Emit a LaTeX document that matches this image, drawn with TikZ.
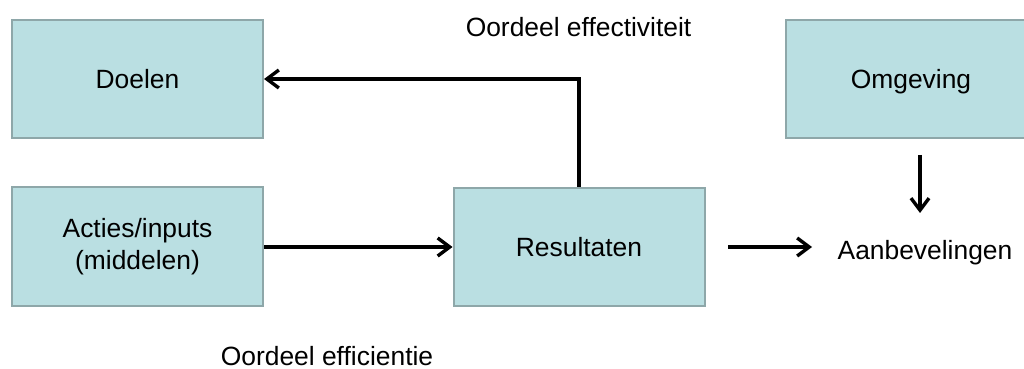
\documentclass[tikz,border=0pt]{standalone}
\usepackage{fontspec}
\setmainfont{Liberation Sans}
\usepackage{tikz}
\usetikzlibrary{arrows.meta}
\definecolor{boxfill}{HTML}{BADFE2}
\definecolor{boxline}{HTML}{8EA7A9}

\begin{document}
\begin{tikzpicture}[x=0.5pt,y=-0.5pt,
  blok/.style={draw=boxline,line width=1pt,fill=boxfill,
    minimum width=125.5pt,minimum height=59pt,align=center},
  pijl/.style={line width=1.7pt,-{Straight Barb[length=6pt,width=9pt,line width=1.7pt]}},
  font=\fontsize{13.2}{16}\selectfont]
\useasboundingbox (0,0) rectangle (1024,369);

\node[blok] (DL) at (137.5,79) {Doelen};
\node[blok] (AC) at (137.5,246.5) {Acties/inputs\\(middelen)};
\node[blok] (RS) at (579,247) {Resultaten};
\node[blok,text depth=0pt] (OM) at (911,79) {Omgeving};

\node (AB) at (925,252.5) {Aanbevelingen};
\node (OE) at (578.5,27) {Oordeel effectiviteit};
\node[inner sep=1pt] (OF) at (327,356) {Oordeel efficientie};

\coordinate (RSa) at (728,247);
\coordinate (ABa) at (812,247);
\coordinate (OMa) at (920,155);
\coordinate (ABb) at (920,213);

\draw[pijl] (AC.east |- RS) -- (RS.west);
\draw[pijl] (RS.north) |- (DL.east);
\draw[pijl] (RSa) -- (ABa);
\draw[pijl] (OMa) -- (ABb);

\end{tikzpicture}
\end{document}
